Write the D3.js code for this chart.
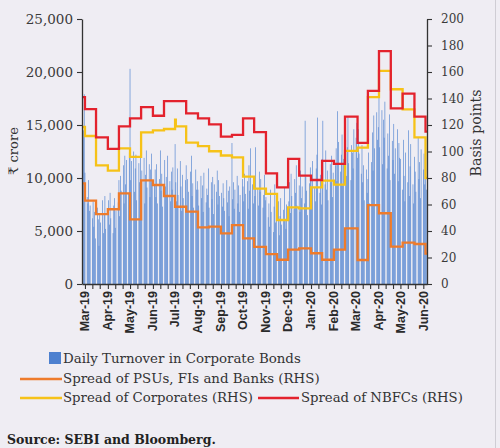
<!DOCTYPE html>
<html><head><meta charset="utf-8">
<script src="https://cdn.jsdelivr.net/npm/d3@7"></script>
<style>
html,body{margin:0;padding:0;background:#efedf3;}
svg{display:block;}
</style></head><body>
<svg id="chart" width="500" height="448"></svg>
<script>
// ---------------- DATA ----------------
const monthTickLabels = ["Mar-19","Apr-19","May-19","Jun-19","Jul-19","Aug-19","Sep-19","Oct-19","Nov-19","Dec-19","Jan-20","Feb-20","Mar-20","Apr-20","May-20","Jun-20"];
const leftTicks = [0, 5000, 10000, 15000, 20000, 25000];
const rightTicks = [0, 20, 40, 60, 80, 100, 120, 140, 160, 180, 200];

// Daily turnover (₹ crore), business days per month
const turnoverFeb19 = [12500, 14500, 17900];
const turnoverMar19 = [10500, 8200, 7600, 9800, 6900, 7400, 6200, 7800, 5400, 6800, 4300, 7200, 6100, 3600, 6500, 5800, 7900, 4800, 6600, 8300, 5200];
const turnoverApr19 = [6800, 7900, 5600, 8600, 6200, 4800, 7400, 8100, 5300, 6900, 7700, 9800, 6400, 10200, 8800, 11200, 7600, 12100, 9400, 11700, 8600, 12400];
const turnoverMay19 = [20300, 9800, 11600, 12500, 8700, 10900, 12200, 7900, 11400, 9600, 12800, 8400, 10700, 11900, 7600, 10300, 12600, 9100, 11300, 8200, 10800, 12300, 9500];
const turnoverJun19 = [9400, 10800, 8200, 11300, 7600, 9900, 12600, 8800, 10400, 7300, 11700, 9200, 10100, 8400, 12100, 9700, 7800, 10600, 8900, 11000];
const turnoverJul19 = [13200, 9600, 7800, 10900, 8400, 11600, 9200, 6900, 10300, 8100, 9800, 11200, 7400, 9900, 8700, 10600, 12100, 8300, 9500, 7200, 10800, 8900, 9700];
const turnoverAug19 = [8900, 7400, 10200, 8100, 9300, 6800, 10500, 7700, 9000, 8400, 10900, 7200, 9600, 8000, 10100, 6600, 9400, 8700, 10700, 7500, 9800, 8300];
const turnoverSep19 = [8600, 7300, 9500, 8100, 6900, 9800, 7700, 8800, 6400, 9200, 13300, 8000, 9600, 7100, 8900, 10200, 7600, 9300, 6800, 8400, 9900];
const turnoverOct19 = [9200, 7800, 10400, 8500, 9700, 7100, 11200, 8800, 12800, 9400, 7600, 10100, 8300, 12900, 9000, 7400, 10600, 8700, 9900, 7200, 8400, 10300, 7900];
const turnoverNov19 = [8200, 6300, 7600, 5400, 8900, 6800, 4900, 7300, 9400, 5800, 6900, 7800, 4600, 6400, 8100, 5600, 7000, 9100, 6100, 5200, 7500];
const turnoverDec19 = [7800, 9600, 6700, 10400, 8300, 7100, 9900, 8600, 11200, 7400, 9300, 6800, 10700, 8100, 9200, 7600, 15400, 10100, 8800, 6500, 9500, 11000];
const turnoverJan20 = [9800, 8400, 11600, 9100, 7800, 10900, 12200, 15700, 8600, 10300, 7500, 11800, 15400, 9400, 12600, 8900, 10700, 7900, 11300, 9600, 12100, 8200, 10500];
const turnoverFeb20 = [11200, 12800, 9700, 16300, 13400, 10600, 12200, 14100, 9300, 11800, 13600, 10200, 12900, 15800, 11400, 9800, 13100, 12400, 10900, 14600];
const turnoverMar20 = [13800, 15200, 11900, 14600, 12300, 10400, 13100, 9600, 11200, 7900, 10800, 8600, 9900, 12400, 7600, 11500, 14300, 10700, 15900, 12800, 16200, 13600];
const turnoverApr20 = [14800, 18600, 12900, 16400, 11300, 15500, 13800, 17200, 10900, 14200, 12100, 16000, 9800, 13500, 11700, 15100, 10400, 12800, 14600, 9700, 13300, 11900];
const turnoverMay20 = [11800, 8900, 13600, 10200, 7800, 12400, 9600, 14500, 8300, 11100, 13200, 9400, 7600, 12000, 10600, 8700, 13800, 9900, 11500, 8100, 12700];
const turnoverJun20 = [10800, 12300, 9400, 11200, 8900];

// Spreads (basis points, RHS) – step series
const stepDates = ["2019-02-26","2019-03-01","2019-03-16","2019-04-01","2019-04-16","2019-05-01","2019-05-16","2019-06-01","2019-06-16","2019-07-01","2019-07-02","2019-07-16","2019-08-01","2019-08-16","2019-09-01","2019-09-16","2019-10-01","2019-10-16","2019-11-01","2019-11-16","2019-12-01","2019-12-16","2020-01-01","2020-01-16","2020-02-01","2020-02-16","2020-03-04","2020-03-18","2020-04-02","2020-04-18","2020-05-04","2020-05-20","2020-06-04","2020-06-06"];
const spreadNBFC = [141, 132, 110.7, 102, 119, 125, 133.5, 127, 138, 138, 138, 128.8, 125, 120.5, 111.2, 112.5, 125, 114.6, 83.5, 73, 94.5, 81.8, 78.5, 93, 90.6, 126.3, 106.5, 145.7, 175.8, 132.6, 143.7, 126.3, 115, 115];
const spreadCorp = [118.5, 111.7, 89.5, 85.5, 102.4, 96, 114.5, 116, 117, 124, 119, 106.7, 104, 100.2, 97, 95.5, 81, 72, 68, 48.3, 57.9, 57.1, 73, 78, 75, 100.4, 103, 141, 160.8, 147, 131.8, 110.6, 80, 80];
const spreadPSU = [76, 63, 52.8, 56.4, 68.4, 48.8, 78.2, 74.7, 66.4, 58.3, 58.3, 54.6, 42.8, 43.3, 38.2, 44.5, 34.5, 28, 22.5, 18.3, 26, 26.9, 23.2, 18.3, 26, 42, 18.1, 59.6, 53.4, 28.2, 31.3, 30.2, 23, 23];

// ---------------- BUILD ----------------
const parse = d3.timeParse("%Y-%m-%d");
const monthGroups = [
  ["2019-02-26","2019-03-01",turnoverFeb19],["2019-03-01","2019-04-01",turnoverMar19],["2019-04-01","2019-05-01",turnoverApr19],
  ["2019-05-01","2019-06-01",turnoverMay19],["2019-06-01","2019-07-01",turnoverJun19],["2019-07-01","2019-08-01",turnoverJul19],
  ["2019-08-01","2019-09-01",turnoverAug19],["2019-09-01","2019-10-01",turnoverSep19],["2019-10-01","2019-11-01",turnoverOct19],
  ["2019-11-01","2019-12-01",turnoverNov19],["2019-12-01","2020-01-01",turnoverDec19],["2020-01-01","2020-02-01",turnoverJan20],
  ["2020-02-01","2020-03-01",turnoverFeb20],["2020-03-01","2020-04-01",turnoverMar20],["2020-04-01","2020-05-01",turnoverApr20],
  ["2020-05-01","2020-06-01",turnoverMay20],["2020-06-01","2020-06-06",turnoverJun20]
];
const bars = [];
monthGroups.forEach(([s,e,vals])=>{
  const days = d3.timeDay.range(parse(s), parse(e)).filter(d=>d.getDay()!==0 && d.getDay()!==6);
  vals.forEach((v,i)=>{ if(days[i]) bars.push({date:days[i], v}); });
});

const svg = d3.select("#chart");
const W = 500, H = 448;
const m = {left:82, right:427, top:19, bottom:284};
const x = d3.scaleTime().domain([parse("2019-02-25"), parse("2020-06-06")]).range([m.left, m.right]);
const yL = d3.scaleLinear().domain([0,25000]).range([m.bottom, m.top]);
const yR = d3.scaleLinear().domain([0,200]).range([m.bottom, m.top]);

const BLUE = "#4d80cf", ORANGE = "#ee7b2b", YELLOW = "#f6c218", RED = "#e3222d";
const serif = "'DejaVu Serif', serif";

svg.append("rect").attr("width",W).attr("height",H).attr("fill","#efedf3");
svg.append("line").attr("x1",495.5).attr("x2",495.5).attr("y1",0).attr("y2",H).attr("stroke","#cfcdd4").attr("stroke-width",1);

// bars
svg.append("g").selectAll("rect").data(bars).join("rect")
  .attr("x", d=>x(d.date)-0.32)
  .attr("width", 0.64)
  .attr("y", d=>yL(d.v))
  .attr("height", d=>yL(0)-yL(d.v))
  .attr("fill", BLUE);

// lines
const steps = stepDates.map(parse);
function mk(vals){ return steps.map((d,i)=>({date:d, v:vals[i]})); }
const line = d3.line().x(d=>x(d.date)).y(d=>yR(d.v)).curve(d3.curveStepAfter);
[[spreadPSU,ORANGE],[spreadCorp,YELLOW],[spreadNBFC,RED]].forEach(([vals,c])=>{
  svg.append("path").datum(mk(vals)).attr("d",line).attr("fill","none").attr("stroke",c).attr("stroke-width",2.3);
});

// axes
const gl = svg.append("g").attr("transform",`translate(${m.left},0)`)
  .call(d3.axisLeft(yL).tickValues(leftTicks).tickFormat(d3.format(",")).tickSize(5).tickSizeOuter(0).tickPadding(4));
const gr = svg.append("g").attr("transform",`translate(${m.right},0)`)
  .call(d3.axisRight(yR).tickValues(rightTicks).tickSize(5).tickSizeOuter(0).tickPadding(9));
const tickDates = [];
d3.timeMonth.range(parse("2019-03-01"), parse("2020-06-07")).forEach(mo=>{
  [1,11,21].forEach(dd=>{ const d=new Date(mo.getFullYear(), mo.getMonth(), dd); if(d<=x.domain()[1]) tickDates.push(d); });
});
const gb = svg.append("g").attr("transform",`translate(0,${m.bottom})`)
  .call(d3.axisBottom(x).tickValues(tickDates).tickFormat("").tickSize(5).tickSizeOuter(0));
[gl,gr,gb].forEach(g=>{
  g.select(".domain").attr("stroke","#333").attr("stroke-width",1.3);
  g.selectAll(".tick line").attr("stroke","#333").attr("stroke-width",1.1);
});
gl.selectAll("text").attr("font-family",serif).attr("font-size",13.5).attr("fill","#3a3a3a");
gr.selectAll("text").attr("font-family",serif).attr("font-size",12).attr("fill","#3a3a3a");

// month labels
const monthStarts = d3.timeMonth.range(parse("2019-03-01"), parse("2020-06-02"));
svg.append("g").selectAll("text").data(monthTickLabels).join("text")
  .attr("transform",(d,i)=>`translate(${x(monthStarts[i])},291) rotate(-90)`)
  .attr("text-anchor","end").attr("dy","0.35em")
  .attr("font-family","'Liberation Sans', Arial, sans-serif").attr("font-weight","bold").attr("font-size",12.5)
  .attr("fill","#2a2a2a").text(d=>d);

function fit(sel, w){ const cur = sel.node().getComputedTextLength(); const fs = parseFloat(sel.attr("font-size")); sel.attr("font-size", fs*w/cur); return sel; }

// axis titles
fit(svg.append("text").attr("transform","translate(13,151) rotate(-90)").attr("text-anchor","middle").attr("dy","0.35em")
  .attr("font-family",serif).attr("font-size",13).attr("fill","#333").text("₹ crore"), 48);
fit(svg.append("text").attr("transform","translate(476,133) rotate(-90)").attr("text-anchor","middle").attr("dy","0.35em")
  .attr("font-family",serif).attr("font-size",13).attr("fill","#333").text("Basis points"), 87);

// legend
const lg = svg.append("g");
lg.append("rect").attr("x",49).attr("y",352).attr("width",12).attr("height",12).attr("fill",BLUE);
function ltext(xp, yp, t, w){ return fit(lg.append("text").attr("x",xp).attr("y",yp).attr("font-family",serif).attr("font-size",13).attr("fill","#333").text(t), w); }
ltext(63, 363, "Daily Turnover in Corporate Bonds", 238);
lg.append("line").attr("x1",20).attr("x2",62).attr("y1",379).attr("y2",379).attr("stroke",ORANGE).attr("stroke-width",2.3);
ltext(63, 383, "Spread of PSUs, FIs and Banks (RHS)", 257);
lg.append("line").attr("x1",20).attr("x2",62).attr("y1",398).attr("y2",398).attr("stroke",YELLOW).attr("stroke-width",2.3);
ltext(63, 402, "Spread of Corporates (RHS)", 190);
lg.append("line").attr("x1",258).attr("x2",299).attr("y1",398).attr("y2",398).attr("stroke",RED).attr("stroke-width",2.3);
ltext(301, 402, "Spread of NBFCs (RHS)", 162);

fit(svg.append("text").attr("x",7).attr("y",443.5).attr("font-family",serif).attr("font-weight","bold").attr("font-size",12)
  .attr("fill","#222").text("Source: SEBI and Bloomberg."), 209);
</script>
</body></html>
